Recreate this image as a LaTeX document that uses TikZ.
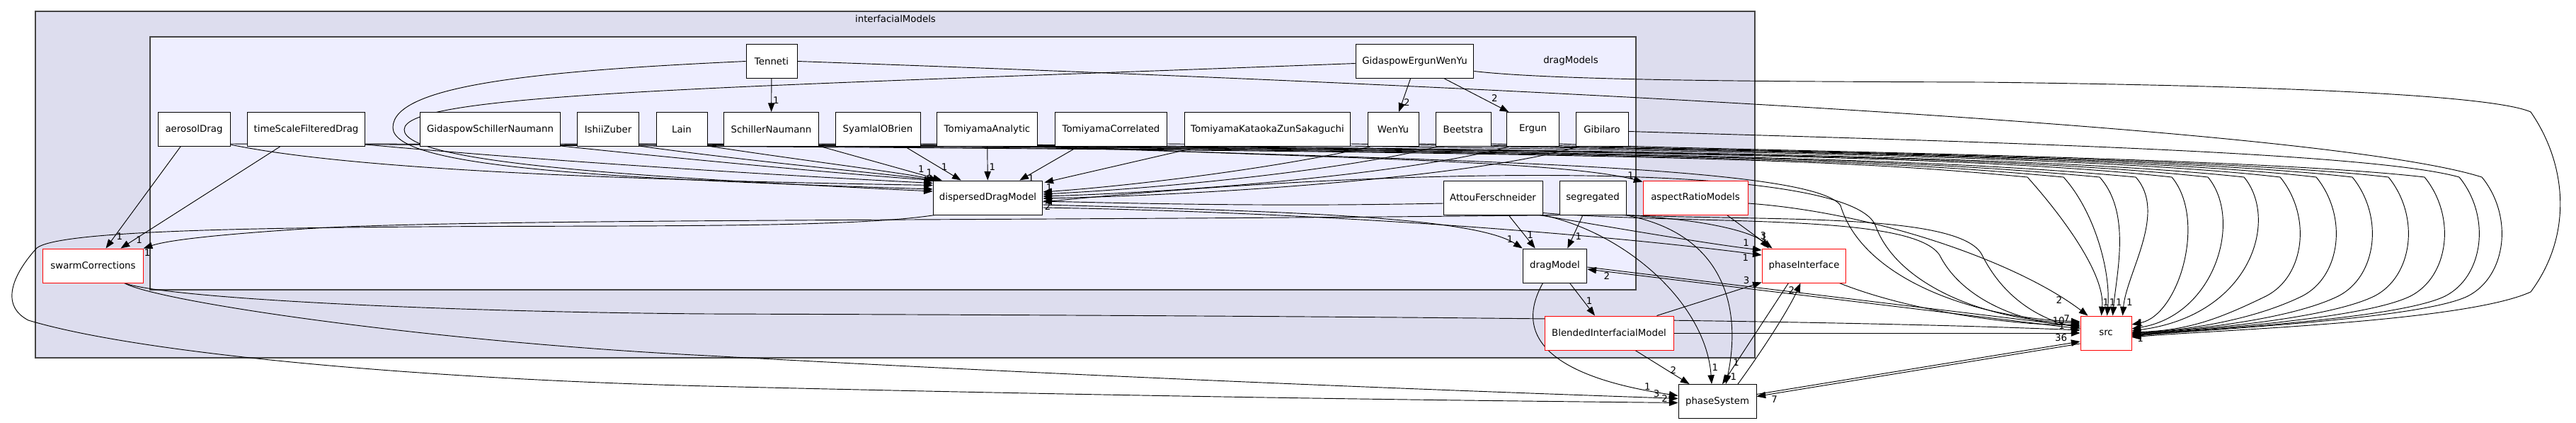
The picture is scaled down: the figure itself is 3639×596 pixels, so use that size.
\documentclass[tikz,border=0pt]{standalone}
\usepackage{fontspec}
\setmainfont{DejaVu Sans}
\usetikzlibrary{arrows.meta,calc}
\definecolor{outerfill}{HTML}{DDDDEE}
\definecolor{innerfill}{HTML}{EEEEFF}
\definecolor{clborder}{HTML}{444444}
\pgfdeclarelayer{bg}
\pgfdeclarelayer{edges}
\pgfsetlayers{bg,edges,main}
\newcommand{\DepTop}[3]{%
 \draw[dep] #1 .. controls (2400,212) and ({#2-260},226) .. (#2,250) .. controls ({#2+45},300) and ({2944+#3},385) .. ($(src.north west)+(#3,0)$) node[lab,pos=0.9,right=1pt]{1};}
\newcommand{\DepNear}[3]{%
 \draw[dep] #1 .. controls (2400,212) and ({#2-260},222) .. (#2,250) .. controls ({#2+50},310) and ({#2+10},445) .. ($(src.east)+(0,#3)$);}
\newcommand{\DepFar}[3]{%
 \draw[dep] #1 .. controls (2400,212) and ({#2-260},220) .. (#2,250) .. controls ({#2+45},305) and ({#2+35},390) .. ({#2-20},418) .. controls ({#2-90},452) and (3090,466) .. ($(src.east)+(0,#3)$);}
\begin{document}
\begin{tikzpicture}[x=0.75pt,y=-0.75pt,
  every node/.style={font=\fontsize{10}{12}\selectfont},
  box/.style={draw=black,fill=white,line width=0.75pt,minimum height=36pt,inner sep=0pt},
  redbox/.style={box,draw=red},
  dep/.style={-{Triangle[length=9.5pt,width=7pt]},line width=0.7pt},
  lab/.style={inner sep=0.5pt},
  cluster/.style={draw=clborder,line width=0.9pt}]

\path[use as bounding box] (0,0) rectangle (3639,596);
\begin{pgfonlayer}{bg}
\draw[cluster,fill=outerfill] (50,16) rectangle (2479,505);
\draw[cluster,fill=innerfill] (212,52) rectangle (2311,409);
\end{pgfonlayer}
\node[lab] (tOuter) at (1265,27) {interfacialModels};
\node[lab] (tInner) at (2219,86) {dragModels};

% row 1
\node[box,minimum width=54pt] (Tenneti) at (1090,86.5) {Tenneti};
\node[box,minimum width=125pt] (GEWY) at (1998.5,86.5) {GidaspowErgunWenYu};
% row 2
\node[box,minimum width=76.5pt] (aero) at (274,182.5) {aerosolDrag};
\node[box,minimum width=125pt] (tsfd) at (432.5,182.5) {timeScaleFilteredDrag};
\node[box,minimum width=148.5pt] (gsn) at (692.5,182.5) {GidaspowSchillerNaumann};
\node[box,minimum width=65pt] (ishii) at (859,182.5) {IshiiZuber};
\node[box,minimum width=54pt] (lain) at (963,182.5) {Lain};
\node[box,minimum width=100pt] (schiller) at (1089.5,182.5) {SchillerNaumann};
\node[box,minimum width=90pt] (syamlal) at (1240,182.5) {SyamlalOBrien};
\node[box,minimum width=107pt] (tomA) at (1394.5,182.5) {TomiyamaAnalytic};
\node[box,minimum width=119pt] (tomC) at (1569.5,182.5) {TomiyamaCorrelated};
\node[box,minimum width=176pt] (tkzs) at (1790.5,182.5) {TomiyamaKataokaZunSakaguchi};
\node[box,minimum width=54pt] (wenyu) at (1968,182.5) {WenYu};
\node[box,minimum width=58.5pt] (beet) at (2067,182.5) {Beetstra};
\node[box,minimum width=55pt] (ergun) at (2165.5,182.5) {Ergun};
\node[box,minimum width=55.5pt] (gib) at (2263,182.5) {Gibilaro};
% row 3
\node[box,minimum width=116pt] (disp) at (1395.5,279) {dispersedDragModel};
\node[box,minimum width=105pt] (attou) at (2109,279) {AttouFerschneider};
\node[box,minimum width=70.5pt] (seg) at (2250,279) {segregated};
\node[redbox,minimum width=111pt] (arm) at (2395,279) {aspectRatioModels};
% row 4
\node[redbox,minimum width=106pt] (swarm) at (131.5,375) {swarmCorrections};
\node[box,minimum width=68pt] (drag) at (2196.5,375) {dragModel};
\node[redbox,minimum width=89pt] (phint) at (2548.5,375) {phaseInterface};
% row 5
\node[redbox,minimum width=136.5pt] (blend) at (2273,470) {BlendedInterfacialModel};
\node[redbox,minimum width=54pt] (src) at (2975,470) {src};
% row 6
\node[box,minimum width=82.5pt] (psys) at (2426,566.5) {phaseSystem};

\begin{pgfonlayer}{edges}
% inside dragModels, row 1 -> row 2
\draw[dep] (Tenneti) -- (schiller) node[lab,pos=0.65,right=1pt]{1};
\draw[dep] ($(GEWY.south)+(-6,0)$) -- ($(wenyu.north)+(8,0)$) node[lab,pos=0.72,right=1pt]{2};
\draw[dep] ($(GEWY.south)+(42,0)$) -- ($(ergun.north west)+(3,0)$) node[lab,pos=0.72,above right=0pt]{2};

% -> dispersedDragModel
\draw[dep] ($(aero.south east)+(0,-3)$) .. controls (520,245) and (1000,256) .. ($(disp.north west)+(0,7)$);
\draw[dep] ($(tsfd.south east)+(0,-3)$) .. controls (800,230) and (1150,250) .. ($(disp.north west)+(0,4)$);
\draw[dep] ($(gsn.south east)+(0,-1)$) .. controls (1000,228) and (1200,246) .. ($(disp.north west)+(1,0)$);
\draw[dep] ($(ishii.south east)+(0,-1)$) .. controls (1060,228) and (1250,245) .. ($(disp.north west)+(4,0)$);
\draw[dep] ($(lain.south east)+(0,-1)$) .. controls (1130,226) and (1270,243) .. ($(disp.north west)+(8,0)$) node[lab,pos=0.93,above=2pt]{1};
\draw[dep] ($(schiller.south east)+(0,-1)$) -- ($(disp.north west)+(13,0)$) node[lab,pos=0.8,above right=0pt]{1};
\draw[dep] ($(syamlal.south east)+(-22,0)$) -- ($(disp.north west)+(40,0)$) node[lab,pos=0.6,right=2pt]{1};
\draw[dep] (tomA) -- (disp) node[lab,pos=0.6,right=1pt]{1};
\draw[dep] ($(tomC.south west)+(33,0)$) -- ($(disp.north east)+(-33,0)$) node[lab,pos=0.95,right=5pt]{1};
\draw[dep] ($(tkzs.south west)+(22,0)$) -- ($(disp.north east)+(2,3)$) node[lab,pos=1,below right=1pt]{1};
\draw[dep] ($(wenyu.south west)+(4,0)$) .. controls (1800,238) and (1600,262) .. ($(disp.east)+(0,-8)$);
\draw[dep] ($(beet.south west)+(3,0)$) .. controls (1900,240) and (1650,265) .. ($(disp.east)+(0,-5)$);
\draw[dep] ($(ergun.south west)+(3,0)$) .. controls (2000,243) and (1700,270) .. ($(disp.east)+(0,-2)$) node[lab,pos=1,right=4pt]{1};
\draw[dep] ($(gib.south west)+(3,0)$) .. controls (2100,246) and (1750,274) .. ($(disp.east)+(0,1)$);
\draw[dep] ($(attou.west)+(0,8)$) .. controls (1800,292) and (1600,287) .. ($(disp.east)+(0,5)$) node[lab,pos=1,below right=1pt]{2};
\draw[dep] (Tenneti.west) .. controls (760,100) and (555,120) .. (555,180) .. controls (555,236) and (850,252) .. ($(disp.west)+(0,-12)$);
\draw[dep] ($(GEWY.west)+(0,3)$) .. controls (1000,124) and (571,132) .. (571,183) .. controls (571,230) and (900,250) .. ($(disp.west)+(0,-9)$);

% -> aspectRatioModels
\draw[dep] ($(tomA.south east)+(0,-2)$) .. controls (1800,222) and (2200,225) .. ($(arm.north west)+(0,2)$) node[lab,pos=0.97,above left=0pt]{1};

% -> swarmCorrections
\draw[dep] ($(aero.south)+(-19,0)$) -- ($(swarm.north)+(18,0)$) node[lab,pos=0.88,right=1pt]{1};
\draw[dep] ($(tsfd.south)+(-37,0)$) -- ($(swarm.north)+(39,0)$) node[lab,pos=0.92,right=2pt]{1};
\draw[dep] (seg.south west) .. controls (1500,312) and (700,308) .. (446,322) .. controls (320,330) and (240,338) .. (swarm.north east) node[lab,pos=1,anchor=north west]{1};

% row 2 -> src
\DepTop{($(aero.south east)+(0,-4)$)}{2864}{30}
\DepTop{($(tsfd.south east)+(0,-4)$)}{2915}{38}
\DepTop{($(gsn.south east)+(0,-4)$)}{2966}{46}
\DepTop{($(ishii.south east)+(0,-4)$)}{3017}{60}
\DepNear{($(lain.south east)+(0,-4)$)}{3068}{-12}
\DepNear{($(schiller.south east)+(0,-4)$)}{3119}{-6}
\DepNear{($(syamlal.south east)+(0,-4)$)}{3170}{-3}
\DepFar{($(tomC.south east)+(0,-4)$)}{3221}{-1}
\DepFar{($(tkzs.south east)+(0,-4)$)}{3272}{0}
\DepFar{($(wenyu.south east)+(0,-4)$)}{3323}{1}
\DepFar{($(beet.south east)+(0,-4)$)}{3374}{2}
\DepFar{($(ergun.south east)+(0,-4)$)}{3425}{3}
\draw[dep] ($(gib.east)+(0,3)$) .. controls (2800,200) and (3350,215) .. (3474,250) .. controls (3519,305) and (3509,390) .. (3454,418) .. controls (3384,452) and (3090,466) .. ($(src.east)+(0,4)$);
\draw[dep] (Tenneti.east) .. controls (2300,128) and (3300,185) .. (3506,250) .. controls (3551,305) and (3541,390) .. (3486,418) .. controls (3416,452) and (3090,466) .. ($(src.east)+(0,5)$);
\draw[dep] ($(GEWY.east)+(0,14)$) .. controls (2200,114) and (2500,115) .. (2800,116) .. controls (3300,122) and (3530,138) .. (3575,158) .. controls (3625,230) and (3636,330) .. (3575,412) .. controls (3480,455) and (3120,466) .. ($(src.east)+(0,6)$);
\path (src.east) ++(12,-14) node[lab] (lsA) {1};
\path (src.east) ++(12,8) node[lab] (lsB) {1};

% dragModel and friends
\draw[dep] ($(disp.east)+(0,10)$) .. controls (1800,298) and (2080,305) .. (drag.north west) node[lab,pos=0.95,above left=0pt]{1};
\draw[dep] ($(attou.south)+(22,0)$) -- ($(drag.north west)+(18,0)$) node[lab,pos=0.6,right=2pt]{1};
\draw[dep] ($(seg.south)+(-14,0)$) -- ($(drag.north east)+(-28,0)$) node[lab,pos=0.65,right=2pt]{1};
\draw[dep] ($(drag.south)+(21,0)$) -- ($(blend.north)+(-20,0)$) node[lab,pos=0.55,right=2pt]{1};
\draw[dep] ($(drag.south)+(-17,0)$) .. controls (2140,470) and (2180,530) .. ($(psys.west)+(0,-8)$) node[lab,pos=0.93,above left=0pt]{1};
\draw[dep] ($(drag.east)+(0,2)$) -- ($(src.west)+(0,-9)$) node[lab,pos=0.97,above left=0pt]{10};
\draw[dep] ($(src.west)+(0,-6)$) -- ($(drag.east)+(0,5)$) node[lab,pos=0.97,below right=1pt]{2};

% phaseInterface
\draw[dep] ($(arm.south east)+(-30,0)$) -- ($(phint.north west)+(15,0)$) node[lab,pos=0.8,above=2pt]{3};
\draw[dep] ($(seg.south east)+(-6,0)$) .. controls (2420,310) and (2480,330) .. ($(phint.north west)+(10,0)$) node[lab,pos=0.9,above=3pt]{1};
\draw[dep] ($(attou.south east)+(-5,0)$) .. controls (2300,325) and (2420,345) .. ($(phint.west)+(0,-22)$) node[lab,pos=0.9,above=1pt]{1};
\draw[dep] ($(disp.east)+(0,14)$) .. controls (1900,300) and (2300,335) .. ($(phint.west)+(0,-15)$) node[lab,pos=0.97,below left=0pt]{1};
\draw[dep] ($(blend.north east)+(-24,0)$) -- ($(phint.south west)+(0,-1)$) node[lab,pos=0.9,above left=1pt]{3};
\draw[dep] ($(phint.south)+(-22,0)$) -- ($(psys.north)+(7,0)$) node[lab,pos=0.93,right=3pt]{1};
\draw[dep] ($(psys.north)+(29,0)$) .. controls (2500,480) and (2530,430) .. ($(phint.south)+(-5,0)$) node[lab,pos=0.9,left=2pt]{2};
\draw[dep] ($(phint.south east)+(-10,0)$) .. controls (2700,440) and (2850,460) .. ($(src.west)+(0,-12)$) node[lab,pos=0.96,above left=2pt]{7};

% BlendedInterfacialModel
\draw[dep] ($(blend.south)+(37,0)$) -- ($(psys.north west)+(16,0)$) node[lab,pos=0.6,right=2pt]{2};
\draw[dep] (blend.east) -- (src.west) node[lab,pos=0.97,below left=0pt]{36};

% phaseSystem <-> src
\draw[dep] ($(psys.east)+(0,-10)$) -- ($(src.west)+(0,12)$);
\draw[dep] ($(src.west)+(0,15)$) -- ($(psys.east)+(0,-7)$) node[lab,pos=0.96,below right=1pt]{7};

% -> phaseSystem from above
\draw[dep] (attou.south east) .. controls (2300,330) and (2410,430) .. ($(psys.north)+(-8,0)$) node[lab,pos=0.93,right=2pt]{1};
\draw[dep] ($(seg.south east)+(-2,0)$) .. controls (2440,330) and (2460,440) .. ($(psys.north)+(12,0)$) node[lab,pos=0.9,right=3pt]{1};

% swarmCorrections out
\draw[dep] ($(swarm.south east)+(-27,0)$) .. controls (220,425) and (600,482) .. (1000,502) .. controls (1600,535) and (2100,553) .. ($(psys.west)+(0,-4)$) node[lab,pos=0.97,above left=0pt]{3};
\draw[dep] ($(swarm.south east)+(-27,0)$) .. controls (230,420) and (600,440) .. (1000,443) .. controls (2000,446) and (2600,452) .. ($(src.west)+(0,-4)$) node[lab,pos=0.98,above left=0pt]{1};

% dispersedDragModel -> phaseSystem (loop round the left)
\draw[dep] ($(disp.south west)+(3,0)$) .. controls (1200,322) and (900,318) .. (600,320) .. controls (300,322) and (80,328) .. (52,350) .. controls (20,385) and (-2,430) .. (40,452) .. controls (200,500) and (600,535) .. (1000,545) .. controls (1700,562) and (2150,566) .. ($(psys.west)+(0,2)$) node[lab,pos=0.98,above left=0pt]{2};

% row 3 -> src (wavy)
\draw[dep] ($(arm.east)+(0,8)$) .. controls (2650,300) and (2850,370) .. ($(src.north west)+(11,0)$) node[lab,pos=0.9,left=2pt]{2};
\draw[dep] ($(disp.east)+(0,6)$) .. controls (2000,232) and (2620,228) .. (2650,320) .. controls (2680,400) and (2800,452) .. ($(src.west)+(0,-14)$);
\draw[dep] ($(tomA.south east)+(-4,0)$) .. controls (2000,226) and (2560,232) .. (2600,290) .. controls (2630,390) and (2780,448) .. ($(src.west)+(0,-16)$);
\draw[dep] ($(attou.south east)+(0,-3)$) .. controls (2400,318) and (2700,300) .. (2740,360) .. controls (2770,420) and (2850,455) .. ($(src.west)+(0,-10)$);
\draw[dep] (seg.south east) .. controls (2500,312) and (2770,300) .. (2800,360) .. controls (2830,420) and (2880,450) .. ($(src.west)+(0,-7)$);
\end{pgfonlayer}
\end{tikzpicture}
\end{document}
